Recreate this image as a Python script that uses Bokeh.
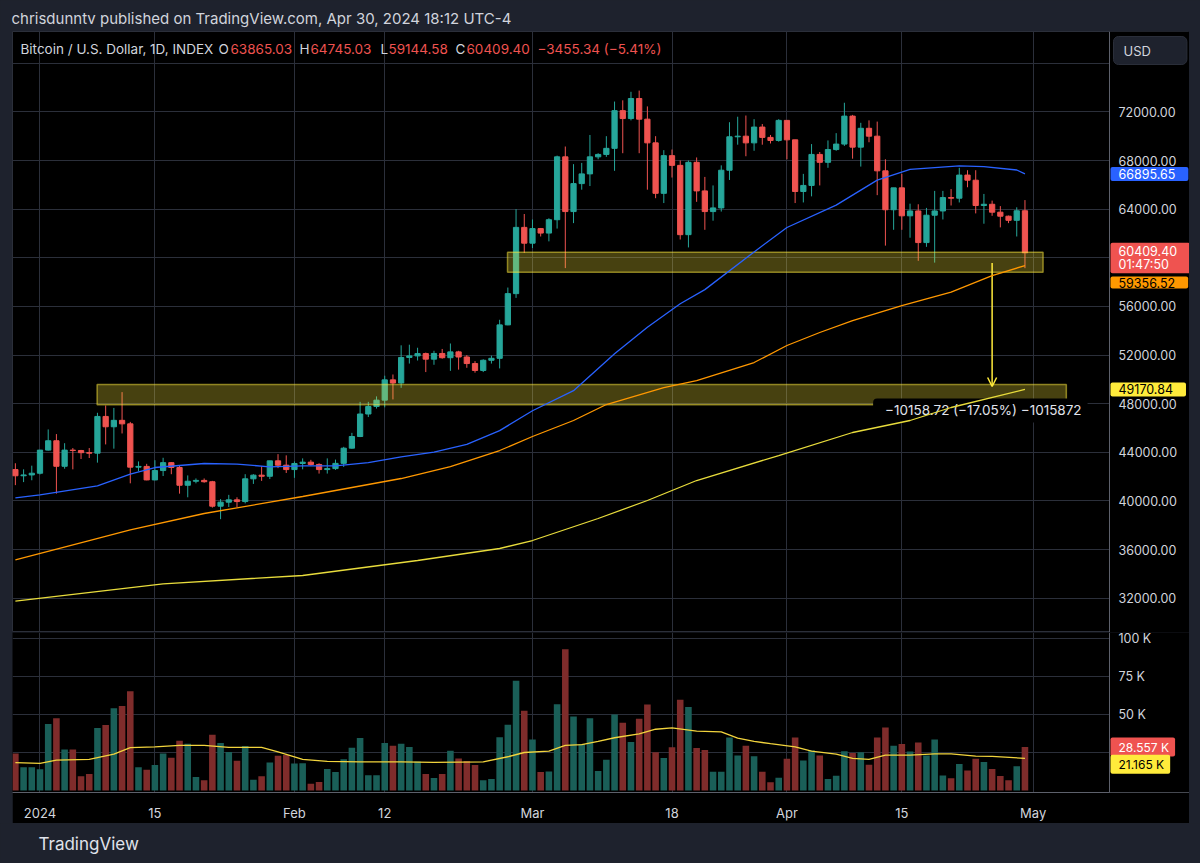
import numpy as np
import pandas as pd
from bokeh.plotting import figure
from bokeh.layouts import column
from bokeh.core.properties import value
from bokeh.models import (ColumnDataSource, Range1d, FixedTicker, Label, LabelSet, BoxAnnotation,
                          Arrow, OpenHead, GlobalInlineStyleSheet, Grid, Span)
from bokeh.embed import file_html
from bokeh.resources import INLINE

# ---------------- data ----------------
dates = pd.date_range("2023-12-29", "2024-04-30", freq="D")

opens = [42580, 42070, 42140, 42280, 44180, 44950, 42850, 44180, 44150, 43970,
         43930, 46950, 46100, 46630, 46340, 42780, 42840, 41730, 42500, 43150,
         42750, 41290, 41620, 41690, 41580, 39570, 39900, 40090, 39950, 41820,
         42120, 42030, 43300, 42940, 42580, 43080, 43190, 43000, 42580, 42660,
         43090, 44340, 45300, 47150, 47770, 48290, 49960, 49700, 51800, 51930,
         52120, 51660, 52130, 51780, 52260, 51840, 51300, 50730, 51570, 51730,
         54480, 57050, 62500, 61200, 62400, 62030, 63130, 68300, 63800, 66100,
         66900, 68300, 68500, 69000, 72100, 71450, 73100, 71400, 69450, 65300,
         68400, 67600, 61900, 67850, 65500, 63800, 64100, 67200, 69950, 70000,
         69450, 70750, 69900, 69650, 71300, 69700, 65450, 65950, 68500, 67850,
         68900, 69350, 71650, 69100, 70650, 70000, 67150, 63950, 65750, 63450,
         63850, 61250, 63500, 63850, 64950, 64900, 66800, 66380, 64300, 64400,
         63750, 63420, 63080, 63865.03]
highs = [43100, 42600, 42900, 44200, 45880, 45500, 44750, 44350, 44200, 44350,
         47250, 47850, 47650, 48950, 46500, 43250, 43050, 43350, 43550, 43200,
         42950, 42100, 41850, 41850, 41650, 40150, 40500, 40300, 42200, 42200,
         42850, 43300, 43850, 43750, 43250, 43500, 43380, 43100, 43500, 43400,
         44450, 45600, 48150, 48150, 48600, 50300, 50400, 52800, 52850, 52600,
         52200, 52350, 52500, 52950, 52350, 52000, 51500, 51650, 51950, 54900,
         57550, 64000, 63600, 63150, 62450, 63250, 68400, 69150, 67700, 67800,
         70100, 68600, 70000, 72850, 72950, 73650, 73750, 72450, 70000, 68850,
         68900, 68000, 68000, 68250, 66650, 65950, 67600, 71150, 71600, 71700,
         71400, 71000, 70100, 71400, 71300, 69700, 66900, 69350, 68700, 69650,
         70250, 72750, 71750, 71100, 71300, 71200, 68100, 65750, 66900, 64450,
         64400, 64100, 65500, 65500, 65650, 67400, 67200, 67200, 65250, 64700,
         64250, 63470, 64150, 64745.03]
lows = [41300, 41550, 41700, 42180, 44150, 40600, 42650, 42600, 43450, 43530,
        43150, 44650, 44300, 45550, 41450, 42450, 41700, 41700, 42050, 42200,
        40600, 40300, 41450, 41500, 39450, 38500, 39500, 39500, 39800, 41400,
        41650, 41800, 42700, 42300, 41900, 42600, 42900, 42250, 42250, 42550,
        42800, 44300, 45250, 46900, 47600, 47700, 48350, 49300, 51300, 51550,
        50600, 51200, 51700, 50700, 50800, 50950, 50550, 50600, 51300, 50900,
        54450, 56700, 60400, 60800, 61750, 61350, 62400, 59150, 62850, 65600,
        65900, 68100, 68300, 67150, 68600, 71300, 68600, 65600, 64900, 64500,
        66600, 61500, 60850, 64600, 62300, 63050, 63800, 66400, 69300, 68350,
        68800, 69300, 69400, 69550, 68100, 64500, 64550, 65050, 65950, 67400,
        68800, 69200, 68150, 67500, 69500, 65150, 61000, 62300, 62300, 61650,
        59750, 60900, 59600, 63150, 64300, 64550, 65800, 63650, 62800, 63450,
        62500, 62850, 61750, 59144.58]
closes = [42070, 42140, 42280, 44180, 44950, 42850, 44180, 44150, 43970, 43930,
          46950, 46100, 46630, 46340, 42780, 42840, 41730, 42500, 43150, 42750,
          41290, 41620, 41690, 41580, 39570, 39900, 40090, 39950, 41820, 42120,
          42030, 43300, 42940, 42580, 43080, 43190, 43000, 42580, 42660, 43090,
          44340, 45300, 47150, 47770, 48290, 49960, 49700, 51800, 51930, 52120,
          51660, 52130, 51780, 52260, 51840, 51300, 50730, 51570, 51730, 54480,
          57050, 62500, 61200, 62400, 62030, 63130, 68300, 63800, 66100, 66900,
          68300, 68500, 69000, 72100, 71450, 73100, 71400, 69450, 65300, 68400,
          67600, 61900, 67850, 65500, 63800, 64100, 67200, 69950, 70000, 69450,
          70750, 69900, 69650, 71300, 69700, 65450, 65950, 68500, 67850, 68900,
          69350, 71650, 69100, 70650, 70000, 67150, 63950, 65750, 63450, 63850,
          61250, 63500, 63850, 64950, 64900, 66800, 66380, 64300, 64400, 63750,
          63420, 63080, 63864.74, 60409.40]
volumes = [24400, 15300, 15300, 14000, 43800, 47600, 26900, 26900, 9300, 10800,
           41200, 43100, 54100, 55600, 65300, 15300, 13600, 16800, 24400, 21600,
           32800, 30800, 8800, 6700, 36600, 31300, 25400, 19600, 29300, 7100,
           9300, 18500, 22800, 23300, 17700, 17900, 4500, 5600, 14200, 12100,
           20500, 28200, 34500, 10100, 10100, 31300, 29500, 30800, 28700, 19000,
           10800, 8200, 10800, 26100, 21100, 19400, 16800, 6700, 7500, 35100,
           43300, 72200, 52400, 33600, 12100, 12500, 56700, 92900, 48700, 30600,
           47600, 12900, 20300, 50000, 44600, 31900, 47200, 56500, 25200, 21300,
           28400, 59700, 55000, 28000, 26700, 12300, 12300, 34900, 23100, 29500,
           22600, 12300, 5400, 8400, 20900, 34900, 19800, 26300, 23100, 7500,
           9700, 25900, 24600, 25200, 17000, 34900, 41400, 29500, 30600, 25600,
           31500, 23100, 33600, 9900, 8000, 17500, 13100, 20900, 18800, 14200,
           9500, 6700, 15900, 28557]

# moving averages, read at sample dates
ma50_dates = ["2023-12-29", "2024-01-01", "2024-01-08", "2024-01-12", "2024-01-15", "2024-01-21",
              "2024-01-25", "2024-01-29", "2024-02-02", "2024-02-06", "2024-02-10", "2024-02-14",
              "2024-02-18", "2024-02-22", "2024-02-26", "2024-03-01", "2024-03-06", "2024-03-11",
              "2024-03-15", "2024-03-19", "2024-03-22", "2024-03-28", "2024-04-01", "2024-04-07",
              "2024-04-12", "2024-04-16", "2024-04-22", "2024-04-25", "2024-04-29", "2024-04-30"]
ma50_vals = [40250, 40500, 41240, 42200, 42750, 43080, 43030, 42810, 42890, 42890, 43160, 43630,
             44020, 44660, 45780, 47420, 49070, 52100, 54290, 56220, 57380, 60480, 62490, 64330,
             66390, 67270, 67550, 67490, 67220, 66895.65]

ma100_dates = ["2023-12-29", "2024-01-07", "2024-01-12", "2024-01-21", "2024-02-02", "2024-02-14",
               "2024-02-20", "2024-02-26", "2024-03-01", "2024-03-06", "2024-03-10", "2024-03-17",
               "2024-03-21", "2024-03-28", "2024-04-01", "2024-04-05", "2024-04-09", "2024-04-15",
               "2024-04-21", "2024-04-26", "2024-04-30"]
ma100_vals = [35160, 36746, 37626, 38967, 40365, 41845, 42832, 44148, 45299, 46615, 47931, 49329,
              49905, 51385, 52783, 53853, 54839, 56073, 57167, 58540, 59356.52]

ma200_dates = ["2023-12-29", "2024-01-16", "2024-02-02", "2024-02-16", "2024-02-26", "2024-03-01",
               "2024-03-09", "2024-03-15", "2024-03-21", "2024-03-31", "2024-04-09", "2024-04-16",
               "2024-04-21", "2024-04-30"]
ma200_vals = [31755, 33186, 33868, 35102, 36089, 36746, 38556, 40036, 41681, 43737, 45629, 46616,
              47685, 49170.84]

volma_dates = ["2023-12-29", "2024-01-01", "2024-01-03", "2024-01-07", "2024-01-10", "2024-01-12",
               "2024-01-15", "2024-01-18", "2024-01-21", "2024-01-24", "2024-01-28", "2024-01-30",
               "2024-02-02", "2024-02-05", "2024-02-09", "2024-02-14", "2024-02-18", "2024-02-24",
               "2024-02-27", "2024-02-29", "2024-03-03", "2024-03-05", "2024-03-07", "2024-03-09",
               "2024-03-11", "2024-03-14", "2024-03-16", "2024-03-18", "2024-03-21", "2024-03-24",
               "2024-03-26", "2024-03-28", "2024-03-30", "2024-04-02", "2024-04-04", "2024-04-07",
               "2024-04-09", "2024-04-11", "2024-04-13", "2024-04-16", "2024-04-19", "2024-04-21",
               "2024-04-24", "2024-04-26", "2024-04-30"]
volma_vals = [18300, 17900, 20000, 20500, 23900, 28200, 28700, 29700, 29700, 28400, 28400, 25400,
              20500, 19200, 18800, 18800, 18500, 18800, 22200, 25000, 25900, 29700, 30200, 32300,
              34700, 37300, 40300, 41200, 39000, 38600, 34500, 32300, 30800, 28700, 25900, 23900,
              21100, 20500, 23300, 23300, 24100, 24100, 22600, 22400, 21165]

# axes
tick_dates = ["2024-01-01", "2024-01-15", "2024-02-01", "2024-02-12", "2024-03-01",
              "2024-03-18", "2024-04-01", "2024-04-15", "2024-05-01"]
tick_labels = ["2024", "15", "Feb", "12", "Mar", "18", "Apr", "15", "May"]
price_ticks = [32000, 36000, 40000, 44000, 48000, 52000, 56000, 60000, 64000, 68000, 72000]
price_grid = price_ticks + [76000]
vol_ticks = [50000, 75000, 100000]
vol_tick_labels = ["50 K", "75 K", "100 K"]
vol_grid = [25000, 50000, 75000, 100000]

# drawings
zone_left = ["2024-02-26 23:00", "2024-01-07 23:00"]
zone_right = ["2024-05-02 05:00", "2024-05-05 01:00"]
zone_bottom = [58812, 47907]
zone_top = [60457, 49576]
arrow_date = "2024-04-26"
arrow_from = 59570.00
arrow_to = 49411.28
measure_anchor = ("2024-04-11 12:00", 47440)
countdown = "01:47:50"

# ---------------- styling ----------------
OUTER = "#1e222d"
BLACK = "#000000"
GRID_C = "#2b2f3a"
AXIS_C = "#5d606b"
TXT = "#d1d4dc"
UP, DOWN = "#26a69a", "#ef5350"
UP_V, DOWN_V = "#1a5f58", "#7f2c2b"
BLUE, ORANGE, YELLOW, VOLMA = "#2962ff", "#ff9800", "#ffeb3b", "#f2d43d"
FONT = "Inter"
SCALE_FS = "12.5px"

DAY = 86400000.0
def ms(s):
    return pd.Timestamp(s).value / 1e6

W_FIG, RIGHT_W = 1177, 80
FRAME_W = W_FIG - RIGHT_W          # width of the chart area (price scale column to its right)
H_HDR, H_MAIN, H_VOL, H_FTR = 31, 601, 191, 40
PX_PER_DAY = 8.208

x0 = ms("2024-01-01") - 3.35 * DAY
x_range = Range1d(x0, x0 + W_FIG / PX_PER_DAY * DAY)
tick_ms = [ms(d) for d in tick_dates]

o = np.array(opens, float); c = np.array(closes, float)
up = c >= o
src = ColumnDataSource(dict(
    date=dates, high=highs, low=lows,
    top=np.maximum(o, c), bottom=np.minimum(o, c),
    color=[UP if u else DOWN for u in up],
    vcolor=[UP_V if u else DOWN_V for u in up],
    volume=volumes))

def fmt(v):
    return f"{v:.2f}".replace("-", "\u2212")

def bare(fig):
    fig.grid.visible = False

def price_scale(fig, ticks, labels):
    # black price-scale column with separator line and tick labels
    fig.add_layout(BoxAnnotation(left=FRAME_W, left_units="screen", fill_color=BLACK,
                                 fill_alpha=1.0, line_color=None))
    fig.add_layout(Span(location=FRAME_W, location_units="screen", dimension="height",
                        line_color=AXIS_C, line_width=1))
    fig.add_layout(LabelSet(x=FRAME_W + 9, x_units="screen", y="v", text="t",
                            source=ColumnDataSource(dict(v=ticks, t=labels)),
                            text_color=TXT, text_font=value(FONT), text_font_size=SCALE_FS,
                            text_baseline="middle"))

def badge(fig, yval, text, bg, fg, yoff=0, pad_r=13, baseline="middle", lh=1.2, pad_v=2,
          fs=SCALE_FS):
    fig.add_layout(Label(x=FRAME_W + 1, y=yval, x_units="screen", text=text, text_color=fg,
                         text_font=FONT, text_font_size=fs, text_baseline=baseline,
                         text_line_height=lh,
                         background_fill_color=bg, y_offset=yoff, border_radius=2,
                         padding=dict(left=8, right=pad_r, top=pad_v, bottom=pad_v)))

# ---------------- header ----------------
hdr = figure(width=1200, height=H_HDR, x_range=Range1d(0, 1), y_range=Range1d(0, 1),
             toolbar_location=None, output_backend="svg", title=None,
             x_axis_location=None, y_axis_location=None, min_border=0,
             background_fill_color=OUTER, border_fill_color=OUTER, outline_line_color=None)
bare(hdr)
hdr.add_layout(Label(x=11, y=13, x_units="screen", y_units="screen",
                     text="chrisdunntv published on TradingView.com, Apr 30, 2024 18:12 UTC-4",
                     text_color=TXT, text_font=FONT, text_font_size="15px", text_baseline="middle"))

# ---------------- main price pane ----------------
p = figure(width=W_FIG, height=H_MAIN, x_range=x_range, y_range=Range1d(29180, 78610),
           x_axis_type="datetime", x_axis_location=None, y_axis_location=None,
           toolbar_location=None, output_backend="svg", title=None, min_border=0,
           background_fill_color=BLACK, border_fill_color=BLACK, outline_line_color=GRID_C)
p.margin = (0, 0, 0, 12)
bare(p)
p.add_layout(Grid(dimension=0, ticker=FixedTicker(ticks=tick_ms), grid_line_color=GRID_C))
p.add_layout(Grid(dimension=1, ticker=FixedTicker(ticks=price_grid), grid_line_color=GRID_C))

p.segment(x0="date", y0="low", x1="date", y1="high", line_color="color", line_width=1, source=src)
p.vbar(x="date", width=0.64 * DAY, top="top", bottom="bottom", fill_color="color",
       line_color="color", line_width=1, source=src)

p.line(pd.to_datetime(ma50_dates), ma50_vals, line_color=BLUE, line_width=1.3, level="overlay")
p.line(pd.to_datetime(ma100_dates), ma100_vals, line_color=ORANGE, line_width=1.3, level="overlay")
p.line(pd.to_datetime(ma200_dates), ma200_vals, line_color="#e8dc3c", line_width=1.3, level="overlay")

for l, r, b, t in zip(zone_left, zone_right, zone_bottom, zone_top):
    p.add_layout(BoxAnnotation(left=ms(l), right=ms(r), bottom=b, top=t,
                               fill_color=YELLOW, fill_alpha=0.28,
                               line_color=YELLOW, line_alpha=0.5, line_width=1.5))

p.add_layout(Arrow(end=OpenHead(size=9, line_color=YELLOW, line_width=1.5),
                   x_start=ms(arrow_date), y_start=arrow_from,
                   x_end=ms(arrow_date), y_end=arrow_to,
                   line_color=YELLOW, line_width=1.5))

diff = arrow_to - arrow_from
pct = diff / arrow_from * 100
measure = f"{fmt(diff)} ({fmt(pct)}%) {int(round(diff * 100))}".replace("-", "\u2212")
p.add_layout(Label(x=ms(measure_anchor[0]), y=measure_anchor[1], text=measure, text_color="#e0e3eb",
                   text_font=FONT, text_font_size="13.5px", text_baseline="middle",
                   background_fill_color=BLACK, border_radius=4,
                   padding=dict(left=12, right=6, top=4, bottom=4)))

# legend line
chg = closes[-1] - closes[-2]
chg_pct = chg / closes[-2] * 100
legend_parts = [("Bitcoin / U.S. Dollar, 1D, INDEX", TXT, 8),
                ("O", TXT, 206), (fmt(opens[-1]), DOWN, 218),
                ("H", TXT, 287), (fmt(highs[-1]), DOWN, 298),
                ("L", TXT, 368), (fmt(lows[-1]), DOWN, 376),
                ("C", TXT, 443), (fmt(closes[-1]), DOWN, 454),
                (f"{fmt(chg)} ({fmt(chg_pct)}%)", DOWN, 525)]
for txt, col, xx in legend_parts:
    p.add_layout(Label(x=xx, y=H_MAIN - 17, x_units="screen", y_units="screen", text=txt,
                       text_color=col, text_font=FONT, text_font_size="13.5px",
                       text_baseline="middle"))

price_scale(p, price_ticks, [f"{t:.2f}" for t in price_ticks])

# USD button
p.add_layout(Label(x=FRAME_W + 4, y=H_MAIN - 5, x_units="screen", y_units="screen", text="USD",
                   text_color=TXT, text_font=FONT, text_font_size="13px", text_baseline="top",
                   background_fill_color=OUTER, border_line_color="#2a2e39", border_radius=5,
                   padding=dict(left=10, right=36, top=6, bottom=6)))

badge(p, ma50_vals[-1], f"{ma50_vals[-1]:.2f}", BLUE, "#ffffff")
badge(p, ma200_vals[-1], f"{ma200_vals[-1]:.2f}", YELLOW, "#000000")
badge(p, closes[-1], f"{closes[-1]:.2f}\n{countdown}", DOWN, "#ffffff", yoff=10, baseline="top",
      lh=0.9, pad_v=1)
badge(p, ma100_vals[-1], f"{ma100_vals[-1]:.2f}", ORANGE, "#000000", yoff=-11, baseline="top",
      pad_v=1)

# ---------------- volume pane ----------------
v = figure(width=W_FIG, height=H_VOL, x_range=x_range, y_range=Range1d(-1316, 103950),
           x_axis_type="datetime", y_axis_location=None,
           toolbar_location=None, output_backend="svg", title=None,
           min_border_left=0, min_border_right=0, min_border_top=0, min_border_bottom=31,
           background_fill_color=BLACK, border_fill_color=BLACK, outline_line_color=None)
v.margin = (0, 0, 0, 12)
bare(v)
v.add_layout(Grid(dimension=0, ticker=FixedTicker(ticks=tick_ms), grid_line_color=GRID_C))
v.add_layout(Grid(dimension=1, ticker=FixedTicker(ticks=vol_grid), grid_line_color=GRID_C))

v.vbar(x="date", width=0.8 * DAY, top="volume", bottom=0, fill_color="vcolor",
       line_color=None, source=src)
v.line(pd.to_datetime(volma_dates), volma_vals, line_color=VOLMA, line_width=1.3)

xa = v.xaxis[0]
xa.ticker = FixedTicker(ticks=tick_ms)
xa.major_label_overrides = {t: s for t, s in zip(tick_ms, tick_labels)}
xa.major_tick_line_color = None
xa.minor_tick_line_color = None
xa.axis_line_color = AXIS_C
xa.major_label_text_color = TXT
xa.major_label_text_font = FONT
xa.major_label_text_font_size = "13px"
xa.major_label_standoff = 6

price_scale(v, vol_ticks, vol_tick_labels)
badge(v, volumes[-1], f"{volumes[-1] / 1000:.3f} K", DOWN, "#ffffff", pad_r=6, fs="12px")
badge(v, volma_vals[-1], f"{volma_vals[-1] / 1000:.3f} K", YELLOW, "#000000", yoff=-6, pad_r=6,
      fs="12px")

# ---------------- footer ----------------
ftr = figure(width=1200, height=H_FTR, x_range=Range1d(0, 1), y_range=Range1d(0, 1),
             toolbar_location=None, output_backend="svg", title=None,
             x_axis_location=None, y_axis_location=None, min_border=0,
             background_fill_color=OUTER, border_fill_color=OUTER, outline_line_color=None)
bare(ftr)
ftr.add_layout(Label(x=38, y=20, x_units="screen", y_units="screen", text="TradingView",
                     text_color="#e0e3eb", text_font=FONT, text_font_size="17px",
                     text_baseline="middle"))

layout = column(hdr, p, v, ftr, spacing=0,
                stylesheets=[GlobalInlineStyleSheet(
                    css="html,body{margin:0;padding:0;background:#1e222d;overflow:hidden;}")])

open("out.html", "w").write(file_html(layout, INLINE, title="BTCUSD"))
